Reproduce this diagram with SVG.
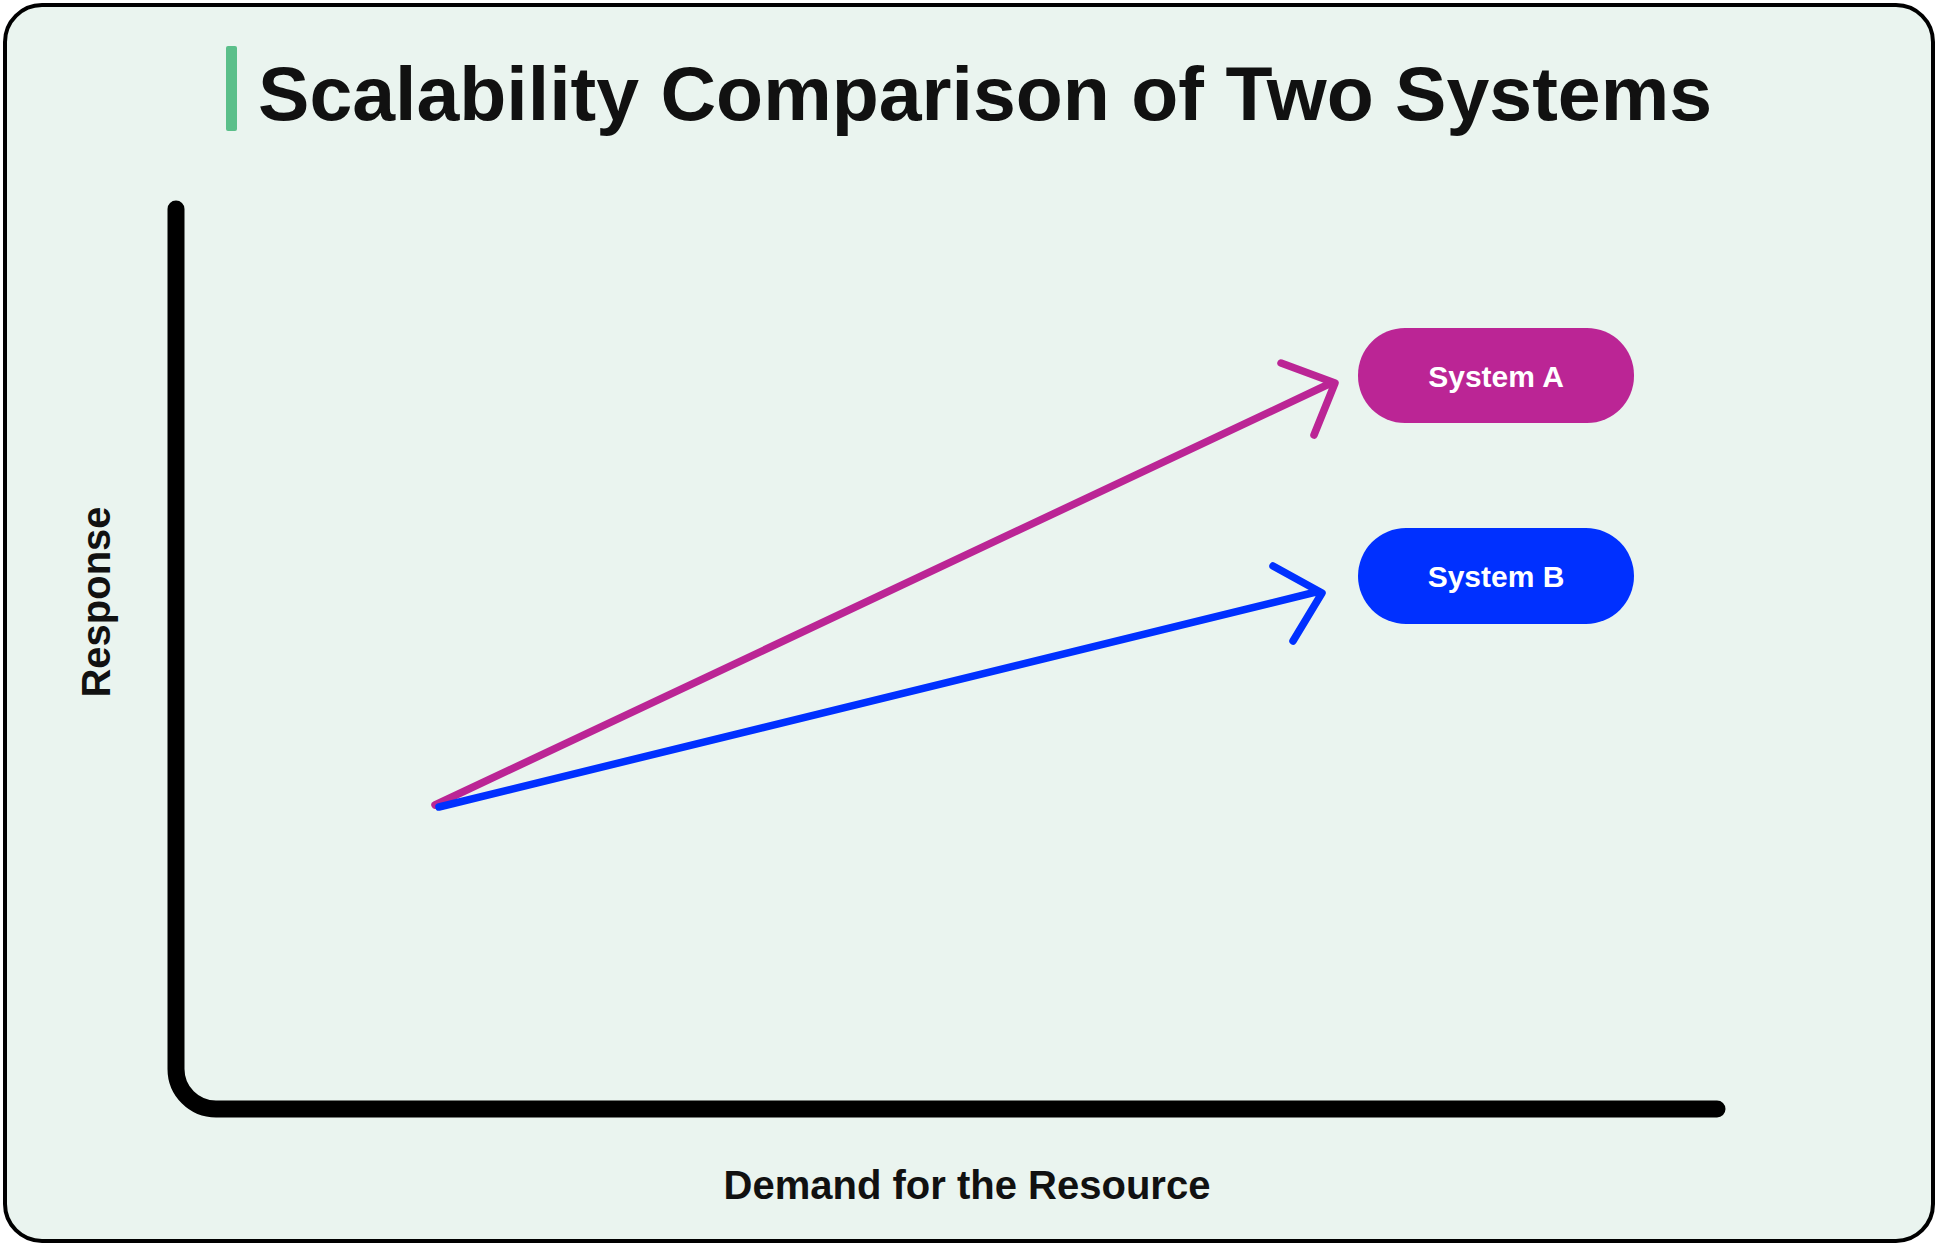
<svg xmlns="http://www.w3.org/2000/svg" width="1938" height="1246" viewBox="0 0 1938 1246">
<style>
.t{font-family:"Liberation Sans",Arial,sans-serif;font-weight:bold;fill:#111}
.pl{font-family:"Liberation Sans",Arial,sans-serif;font-weight:bold;fill:#fff;font-size:30px}
.ln{fill:none;stroke-width:7.5;stroke-linecap:round;stroke-linejoin:round}
</style>
<rect x="5" y="5" width="1928" height="1236" rx="37" fill="#eaf4ef" stroke="#000" stroke-width="4"/>
<g id="title">
<rect x="226" y="46" width="11" height="85" rx="2" fill="#5bbf8a"/>
<text class="t" x="258" y="120" font-size="76" textLength="1454" lengthAdjust="spacingAndGlyphs">Scalability Comparison of Two Systems</text>
</g>
<g id="axes">
<path d="M176 209 V1069 A40 40 0 0 0 216 1109 H1717" fill="none" stroke="#000" stroke-width="17" stroke-linecap="round"/>
<text class="t" font-size="40" text-anchor="middle" transform="translate(110 602) rotate(-90)">Response</text>
<text class="t" font-size="40" x="967" y="1199" text-anchor="middle">Demand for the Resource</text>
</g>
<g id="connectors">
<path class="ln" stroke="#bb2595" d="M435 805 L1329 384 M1281 363 L1335 383 L1314 435"/>
<path class="ln" stroke="#0030ff" d="M439 807 L1316 592 M1273 566 L1322 593 L1293 641"/>
</g>
<g id="systemA">
<rect x="1358" y="328" width="276" height="95" rx="47" fill="#bb2595"/>
<text class="pl" x="1496" y="387" text-anchor="middle">System A</text>
</g>
<g id="systemB">
<rect x="1358" y="528" width="276" height="96" rx="48" fill="#0030ff"/>
<text class="pl" x="1496" y="587" text-anchor="middle">System B</text>
</g>
</svg>
